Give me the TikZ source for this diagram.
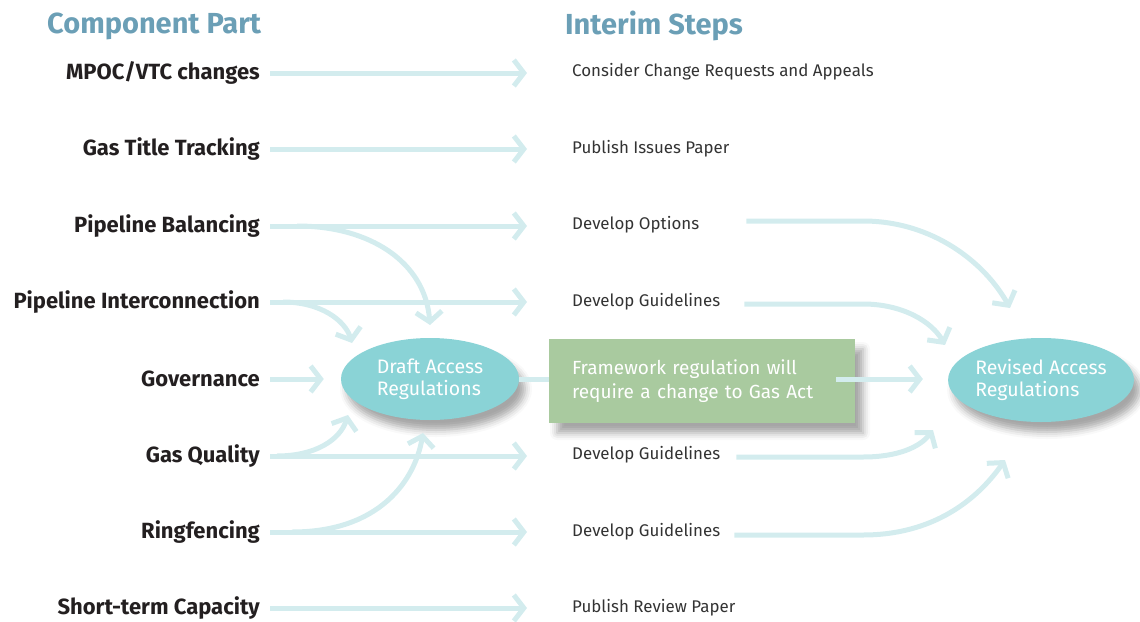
\documentclass[tikz,border=0pt]{standalone}
\usepackage{fontspec}
\setmainfont{Fira Sans}
\newfontfamily\partfont{Fira Sans}
\usetikzlibrary{arrows.meta,shapes.geometric,shadows.blur}

\definecolor{flowc}{HTML}{D3ECEE}
\definecolor{headc}{HTML}{6B9FB6}
\definecolor{ellc}{HTML}{8AD3D6}
\definecolor{boxc}{HTML}{A9CA9F}
\definecolor{inkc}{HTML}{231F20}
\definecolor{stepc}{HTML}{333333}

\tikzset{
  part/.style={anchor=east,inner sep=0pt,text=inkc,
    font=\partfont\bfseries\fontsize{22}{24}\selectfont},
  stepnote/.style={anchor=west,inner sep=0pt,text=stepc,
    font=\fontsize{16.9}{19}\selectfont},
  heading/.style={anchor=west,inner sep=0pt,text=headc,
    font=\partfont\bfseries\fontsize{29}{32}\selectfont},
  regs/.style={ellipse,fill=ellc,text=white,inner sep=0pt,align=left,
    font=\fontsize{19.5}{22}\selectfont,
    blur shadow={shadow xshift=6pt,shadow yshift=-10pt,shadow blur radius=7pt,shadow opacity=35}},
  actbox/.style={rectangle,fill=boxc,text=white,inner xsep=23pt,inner ysep=0pt,align=left,
    font=\fontsize{19}{24}\selectfont,text width=260pt,
    minimum width=306pt,minimum height=84pt,
    blur shadow={shadow xshift=8pt,shadow yshift=-10pt,shadow blur radius=7pt,shadow opacity=35}},
  flow/.style={draw=flowc,line width=5pt,line cap=butt,
    -{Straight Barb[length=10pt,width=26pt]}},
}

\begin{document}
\begin{tikzpicture}[x=1pt,y=-1pt]
  \useasboundingbox (0,0) rectangle (1140,621);

  % ---- headings -----------------------------------
  \node[heading] (hpart) at (47,26) {Component Part};
  \node[heading] (hstep) at (565,26) {Interim Steps};

  % ---- component parts ----------------------------
  \node[part] (l1) at (260,73)  {MPOC/VTC changes};
  \node[part] (l2) at (260,149) {Gas Title Tracking};
  \node[part] (l3) at (260,226) {Pipeline Balancing};
  \node[part] (l4) at (260,302) {Pipeline Interconnection};
  \node[part] (l5) at (260,379) {Governance};
  \node[part] (l6) at (260,456) {Gas Quality};
  \node[part] (l7) at (260,532) {Ringfencing};
  \node[part] (l8) at (260,608) {Short-term Capacity};

  % ---- interim steps ------------------------------
  \node[stepnote] (r1) at (572,72)  {Consider Change Requests and Appeals};
  \node[stepnote] (r2) at (572,149) {Publish Issues Paper};
  \node[stepnote] (r3) at (572,225) {Develop Options};
  \node[stepnote] (r4) at (572,302) {Develop Guidelines};
  \node[stepnote] (r6) at (572,455) {Develop Guidelines};
  \node[stepnote] (r7) at (572,532) {Develop Guidelines};
  \node[stepnote] (r8) at (572,608) {Publish Review Paper};

  % ---- regulations --------------------------------
  \node[regs,minimum width=178pt,minimum height=82pt] (draft) at (430,379)
    {Draft Access\\Regulations};
  \node[actbox] (act) at (702,381)
    {Framework regulation will\\require a change to Gas Act};
  \node[regs,minimum width=183pt,minimum height=84pt] (revised) at (1041,380)
    {Revised Access\\Regulations};

  % ---- straight arrows ----------------------------
  \foreach \i in {1,2,3,4,6,7,8}
    \draw[flow,shorten <=10pt,shorten >=45pt] (l\i.east) -- (l\i.east -| r1.west);
  \draw[flow,shorten <=10pt,shorten >=17pt] (l5.east) -- (l5.east -| draft.west);

  % ---- into the draft -----------------------------
  \draw[flow] ([xshift=37pt]l3.east) .. controls +(73,0) and +(-5,-63) .. (430,325);
  \draw[flow] ([xshift=23pt]l4.east) .. controls +(37,0) and +(-7,-23) .. (352,343);
  \draw[flow] ([xshift=17pt]l6.east) .. controls +(38,0) and +(-8,25) .. (348,415);
  \draw[flow] ([xshift=32pt]l7.east) .. controls +(88,0) and +(-8,47) .. (423,433);

  % ---- draft through the act ----------------------
  \draw[flowc,line width=5pt] (draft.east) -- (act.west |- draft.east);
  \draw[flow] ([xshift=-19pt]act.east |- draft.east) -- ([xshift=-25pt]revised.west |- draft.east);

  % ---- into the revised ---------------------------
  \draw[flow] ([xshift=47pt]r3.east |- 0,221) -- (863,221)
    .. controls +(70,0) and +(-25,-45) .. (1010,308);
  \draw[flow] ([xshift=24pt]r4.east |- 0,304) -- (863,304)
    .. controls +(40,0) and +(-13,-23) .. (945,345);
  \draw[flow] ([xshift=16pt]r6.east |- 0,457) -- (863,457)
    .. controls +(35,0) and +(-13,17) .. (933,430);
  \draw[flow] ([xshift=14pt]r7.east |- 0,535) -- (863,535)
    .. controls +(70,0) and +(-28,40) .. (1005,460);
\end{tikzpicture}
\end{document}
